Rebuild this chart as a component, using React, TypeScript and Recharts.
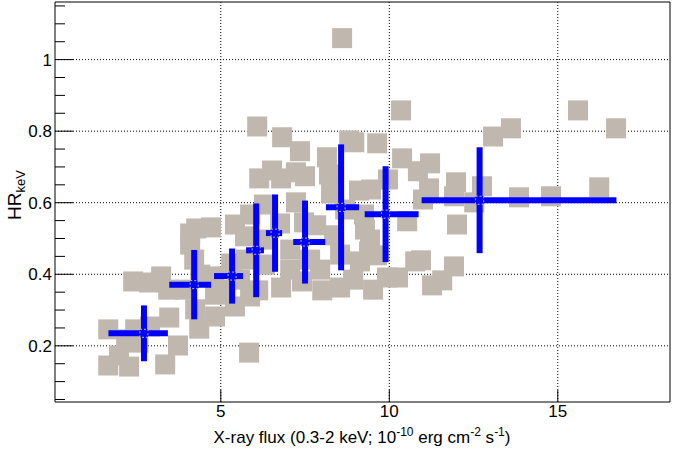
import React from 'react';
import {
  ScatterChart,
  Scatter,
  XAxis,
  YAxis,
  ErrorBar,
  ReferenceLine,
  ReferenceArea,
} from 'recharts';

// individual observations (flux in 1e-10 erg/cm2/s, hardness ratio)
const obsFlux = [
  8.6, 10.35, 6.08, 15.6, 16.73, 13.08, 13.61, 6.82, 7.35, 8.15,
  8.81, 8.96, 9.64, 10.38, 11.21, 10.85, 9.96, 11.98, 12.75, 11.18,
  11.92, 12.52, 11.0, 13.85, 14.8, 16.23, 10.53, 12.01, 10.77, 10.94,
  11.92, 11.27, 11.57, 9.93, 10.26, 9.52, 8.54, 8.93, 9.4, 9.64,
  8.21, 6.14, 6.52, 6.79, 7.23, 7.5, 8.27, 9.1, 9.46, 6.28,
  7.23, 5.42, 5.72, 4.09, 4.27, 4.71, 4.09, 4.21, 4.8, 5.31,
  5.75, 2.4, 2.87, 3.23, 3.44, 4.24, 4.36, 4.83, 5.42, 5.87,
  6.79, 5.84, 1.66, 1.66, 1.98, 2.28, 2.46, 3.35, 3.47, 3.73,
  2.9, 2.55, 7.41, 8.01, 6.76, 7.47, 7.83, 8.36, 6.11, 6.31,
  7.06, 7.65, 6.31, 7.06, 7.95, 5.87, 8.69, 9.28, 9.13, 8.54,
  4.83, 3.94, 9.25, 9.43, 4.39, 5.13, 5.57, 2.19,
];
const obsHR = [
  1.06, 0.858, 0.813, 0.858, 0.808, 0.785, 0.808, 0.783, 0.744, 0.727,
  0.774, 0.769, 0.766, 0.724, 0.71, 0.688, 0.665, 0.657, 0.646, 0.64,
  0.618, 0.601, 0.609, 0.615, 0.618, 0.643, 0.548, 0.539, 0.436, 0.439,
  0.422, 0.369, 0.383, 0.391, 0.391, 0.357, 0.363, 0.385, 0.464, 0.453,
  0.679, 0.668, 0.69, 0.668, 0.685, 0.674, 0.626, 0.634, 0.637, 0.595,
  0.601, 0.539, 0.506, 0.514, 0.528, 0.531, 0.483, 0.441, 0.394, 0.43,
  0.441, 0.38, 0.377, 0.394, 0.357, 0.302, 0.248, 0.282, 0.31, 0.338,
  0.363, 0.181, 0.246, 0.145, 0.173, 0.142, 0.246, 0.148, 0.279, 0.201,
  0.254, 0.209, 0.38, 0.355, 0.542, 0.545, 0.537, 0.509, 0.355, 0.497,
  0.469, 0.441, 0.427, 0.413, 0.413, 0.567, 0.581, 0.525, 0.436, 0.455,
  0.343, 0.357, 0.567, 0.497, 0.399, 0.357, 0.385, 0.218,
];

// flux-binned averages with asymmetric x errors
const binFlux = [2.72, 4.21, 5.335, 6.05, 6.61, 7.5, 8.57, 9.89, 12.68];
const binFluxLo = [1.055, 0.74, 0.535, 0.3, 0.27, 0.35, 0.45, 0.62, 1.72];
const binFluxHi = [0.71, 0.5, 0.325, 0.23, 0.21, 0.6, 0.53, 0.98, 4.06];
const binHR = [0.235, 0.371, 0.395, 0.467, 0.515, 0.49, 0.587, 0.568, 0.607];
const binHRErr = [0.078, 0.097, 0.077, 0.131, 0.108, 0.116, 0.176, 0.134, 0.148];

const xTicks = [5, 10, 15];
const yTicks = [
  0.05, 0.1, 0.15, 0.2, 0.25, 0.3, 0.35, 0.4, 0.45, 0.5, 0.55, 0.6,
  0.65, 0.7, 0.75, 0.8, 0.85, 0.9, 0.95, 1, 1.05, 1.1, 1.15,
];
const yMajor = [0.2, 0.4, 0.6, 0.8, 1];

const X_DOMAIN: [number, number] = [0.08, 18.33];
const Y_DOMAIN: [number, number] = [0.043, 1.161];

const FONT = '"Liberation Sans", Arial, Helvetica, sans-serif';
const GRAY = '#c0b8ae';
const BLUE = '#0000ff';

const obsData = obsFlux.map((x, i) => ({ x, y: obsHR[i] }));
const binData = binFlux.map((x, i) => ({
  x,
  y: binHR[i],
  xErr: [binFluxLo[i], binFluxHi[i]],
  yErr: binHRErr[i],
}));

const GraySquare = (props: any) => (
  <rect x={props.cx - 10} y={props.cy - 10} width={20} height={20} fill={GRAY} />
);

// little dashed box ROOT draws at the bin centre
const BinMarker = (props: any) => (
  <rect
    x={props.cx - 4}
    y={props.cy - 4}
    width={8}
    height={8}
    fill={BLUE}
    stroke={GRAY}
    strokeDasharray="2 2"
  />
);

const YTick = (props: any) => {
  const { x, y, payload } = props;
  const major = yMajor.some((t) => Math.abs(t - payload.value) < 1e-6);
  return (
    <g>
      <line x1={x + 3} x2={x + 3 + (major ? 18 : 10)} y1={y} y2={y} stroke="#000" />
      {major && (
        <text x={x} y={y} dy="0.36em" textAnchor="end" fontSize={17} fontFamily={FONT} fill="#000">
          {String(payload.value)}
        </text>
      )}
    </g>
  );
};

const XTick = (props: any) => {
  const { x, y, payload } = props;
  return (
    <g>
      <line x1={x} x2={x} y1={y - 3} y2={y - 15} stroke="#000" />
      <text x={x} y={y} dy="0.71em" textAnchor="middle" fontSize={17} fontFamily={FONT} fill="#000">
        {payload.value}
      </text>
    </g>
  );
};

const YTitle = () => (
  <text transform="translate(21,195) rotate(-90)" textAnchor="middle" fontFamily={FONT} fontSize={19} fill="#000">
    <tspan>HR</tspan>
    <tspan dy={4} fontSize={13}>keV</tspan>
  </text>
);

const XTitle = () => (
  <text x={362} y={443} textAnchor="middle" fontFamily={FONT} fontSize={17} fill="#000">
    <tspan>X-ray flux (0.3-2 keV; 10</tspan>
    <tspan dy={-7} fontSize={12}>-10</tspan>
    <tspan dy={7}>{' erg cm'}</tspan>
    <tspan dy={-7} fontSize={12}>-2</tspan>
    <tspan dy={7}>{' s'}</tspan>
    <tspan dy={-7} fontSize={12}>-1</tspan>
    <tspan dy={7}>)</tspan>
  </text>
);

export default function App() {
  return (
    <div style={{ position: 'absolute', left: 0, top: 0, background: '#fff' }}>
      <ScatterChart width={673} height={449} margin={{ top: 2, right: 3, bottom: 0, left: 10 }}>
        <XAxis
          type="number"
          dataKey="x"
          domain={X_DOMAIN}
          ticks={xTicks}
          interval={0}
          allowDataOverflow
          axisLine={false}
          tickLine={false}
          tickSize={0}
          tickMargin={3}
          tick={<XTick />}
          height={47}
          label={<XTitle />}
        />
        <YAxis
          type="number"
          dataKey="y"
          domain={Y_DOMAIN}
          ticks={yTicks}
          interval={0}
          allowDataOverflow
          axisLine={false}
          tickLine={false}
          tickSize={0}
          tickMargin={3}
          tick={<YTick />}
          width={45}
          label={<YTitle />}
        />
        {yMajor.map((v) => (
          <ReferenceLine key={`gy${v}`} y={v} stroke="#000" strokeDasharray="1 2" />
        ))}
        {xTicks.map((v) => (
          <ReferenceLine key={`gx${v}`} x={v} stroke="#000" strokeDasharray="1 2" />
        ))}
        <Scatter data={obsData} shape={<GraySquare />} isAnimationActive={false} />
        <Scatter data={binData} shape={<BinMarker />} isAnimationActive={false} zIndex={800}>
          <ErrorBar dataKey="xErr" direction="x" width={0} stroke={BLUE} strokeWidth={6} isAnimationActive={false} zIndex={700} />
          <ErrorBar dataKey="yErr" direction="y" width={0} stroke={BLUE} strokeWidth={6} isAnimationActive={false} zIndex={700} />
        </Scatter>
        <ReferenceArea
          x1={X_DOMAIN[0]}
          x2={X_DOMAIN[1]}
          y1={Y_DOMAIN[0]}
          y2={Y_DOMAIN[1]}
          fill="none"
          stroke="#000"
          strokeWidth={1}
        />
      </ScatterChart>
    </div>
  );
}
